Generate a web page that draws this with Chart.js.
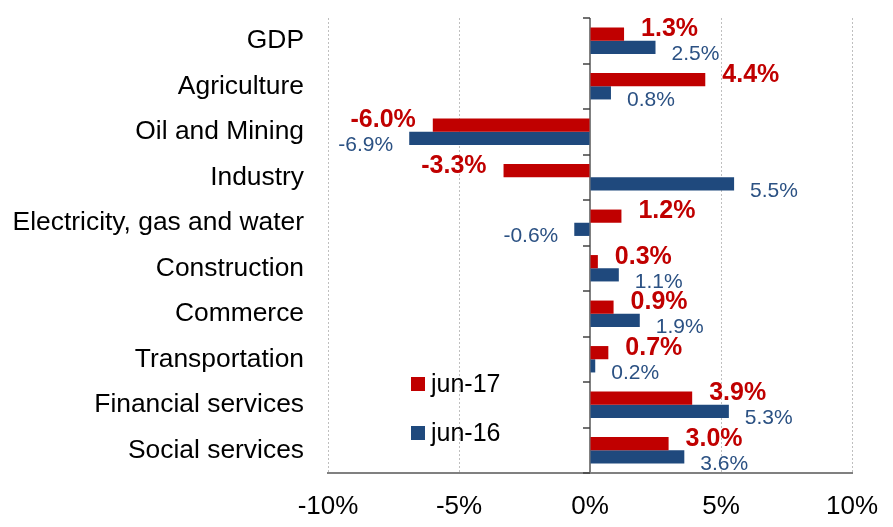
<!DOCTYPE html>
<html>
<head>
<meta charset="utf-8">
<script src="https://cdn.jsdelivr.net/npm/chart.js@4/dist/chart.umd.min.js"></script>
<style>
  html, body { margin: 0; padding: 0; background: #ffffff; }
  #wrap { width: 893px; height: 527px; }
</style>
</head>
<body>
<div id="wrap"><canvas id="c" width="893" height="527"></canvas></div>
<script>
const categories = ["GDP", "Agriculture", "Oil and Mining", "Industry", "Electricity, gas and water",
  "Construction", "Commerce", "Transportation", "Financial services", "Social services"];
const seriesNames = ["jun-17", "jun-16"];
const jun17 = [1.3, 4.4, -6.0, -3.3, 1.2, 0.3, 0.9, 0.7, 3.9, 3.0];
const jun16 = [2.5, 0.8, -6.9, 5.5, -0.6, 1.1, 1.9, 0.2, 5.3, 3.6];
const xTicks = [-10, -5, 0, 5, 10];

const RED = "#C00000";
const BLUE = "#1F497D";
const BLUE_TEXT = "#2B5183";
const FONT = "'Liberation Sans', Arial, sans-serif";

const fmt = v => v.toFixed(1) + "%";

const overlay = {
  id: "overlay",
  beforeDatasetsDraw(chart) {
    const ctx = chart.ctx;
    const x = chart.scales.x;
    const ca = chart.chartArea;
    const x0 = x.getPixelForValue(0);
    ctx.save();
    ctx.strokeStyle = "#808080";
    ctx.lineWidth = 2;
    ctx.beginPath();
    ctx.moveTo(x0, ca.top);
    ctx.lineTo(x0, ca.bottom);
    ctx.stroke();
    ctx.strokeStyle = "#404040";
    ctx.lineWidth = 1.5;
    const n = categories.length;
    const band = (ca.bottom - ca.top) / n;
    for (let i = 0; i <= n; i++) {
      const yy = Math.round(ca.top + i * band);
      ctx.beginPath();
      ctx.moveTo(x0 - 7, yy);
      ctx.lineTo(x0, yy);
      ctx.stroke();
    }
    ctx.restore();
  },
  afterDatasetsDraw(chart) {
    const ctx = chart.ctx;
    const ca = chart.chartArea;
    ctx.save();
    chart.data.datasets.forEach((ds, di) => {
      const meta = chart.getDatasetMeta(di);
      meta.data.forEach((el, i) => {
        const v = ds.data[i];
        const pos = v >= 0;
        ctx.textBaseline = "middle";
        ctx.textAlign = pos ? "left" : "right";
        if (di === 0) {
          ctx.font = "bold 25px " + FONT;
          ctx.fillStyle = RED;
          const tx = pos ? el.x + 17 : el.x - 17;
          ctx.fillText(fmt(v), tx, el.y - el.height / 2 + 2);
        } else {
          ctx.font = "21px " + FONT;
          ctx.fillStyle = BLUE_TEXT;
          const tx = pos ? el.x + 16 : el.x - 16;
          ctx.fillText(fmt(v), tx, el.y + el.height / 2 + 0.5);
        }
      });
    });
    const lx = ca.left + 83;
    const rows = [ca.bottom - 89, ca.bottom - 40];
    chart.data.datasets.forEach((ds, di) => {
      const cy = rows[di];
      ctx.fillStyle = ds.backgroundColor;
      ctx.fillRect(lx, cy - 7, 14, 14);
      ctx.fillStyle = "#000000";
      ctx.font = "25px " + FONT;
      ctx.textAlign = "left";
      ctx.textBaseline = "middle";
      ctx.fillText(ds.label, lx + 20, cy + 1);
    });
    ctx.restore();
  }
};

new Chart(document.getElementById("c"), {
  type: "bar",
  data: {
    labels: categories,
    datasets: [
      { label: seriesNames[0], data: jun17, backgroundColor: RED, borderWidth: 0,
        categoryPercentage: 0.58, barPercentage: 1.0 },
      { label: seriesNames[1], data: jun16, backgroundColor: BLUE, borderWidth: 0,
        categoryPercentage: 0.58, barPercentage: 1.0 }
    ]
  },
  options: {
    indexAxis: "y",
    responsive: false,
    animation: false,
    devicePixelRatio: 1,
    layout: { padding: { left: 12, right: 41, top: 18, bottom: 0 } },
    plugins: { legend: { display: false }, tooltip: { enabled: false } },
    scales: {
      x: {
        type: "linear",
        min: xTicks[0],
        max: xTicks[xTicks.length - 1],
        afterBuildTicks: s => { s.ticks = xTicks.map(v => ({ value: v })); },
        afterFit: s => { s.height = 54; s.paddingLeft = 0; s.paddingRight = 0; },
        ticks: {
          callback: v => v + "%",
          color: "#000000",
          font: { family: FONT, size: 26 },
          padding: 18,
          maxRotation: 0
        },
        grid: {
          drawTicks: false,
          color: c => (c.tick && c.tick.value === 0) ? "rgba(0,0,0,0)" : "#BFBFBF",
          lineWidth: 1
        },
        border: { display: true, color: "#808080", width: 2, dash: [2, 2] }
      },
      y: {
        type: "category",
        offset: true,
        afterFit: s => { s.width = 316; s.paddingTop = 0; s.paddingBottom = 0; },
        ticks: {
          color: "#000000",
          font: { family: FONT, size: 26.4 },
          padding: 24
        },
        grid: { display: false, drawTicks: false },
        border: { display: false }
      }
    }
  },
  plugins: [overlay]
});
</script>
</body>
</html>
